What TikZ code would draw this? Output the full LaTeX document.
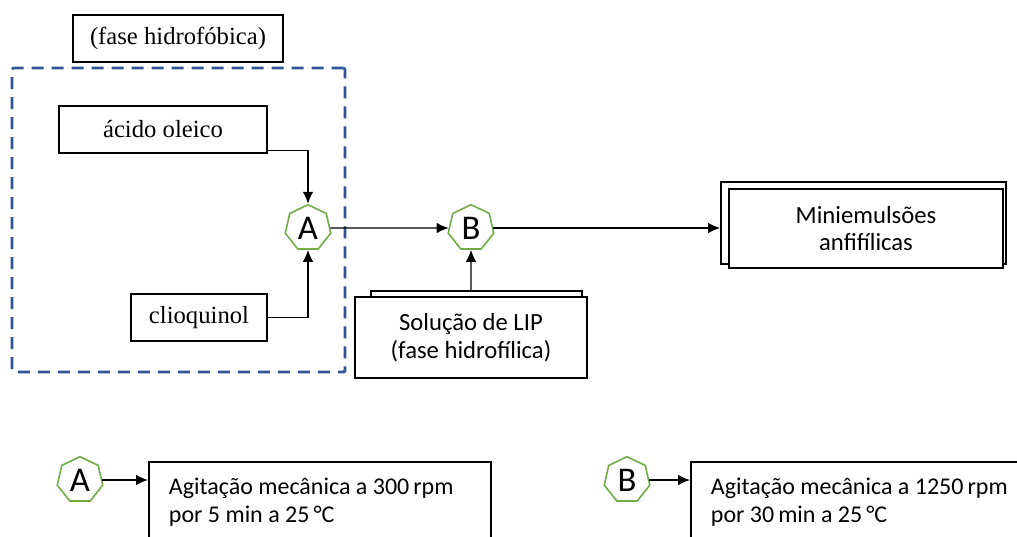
\documentclass[tikz,border=0pt]{standalone}
\usepackage{fontspec}
\setmainfont{Liberation Serif}
\newfontfamily\calibri{Carlito}
\usetikzlibrary{shapes.geometric,arrows.meta}
\definecolor{dashblue}{HTML}{2F5597}
\definecolor{heptgreen}{HTML}{70AD47}
\begin{document}
\begin{tikzpicture}[x=0.75pt,y=-0.75pt,>={Latex[length=9pt,width=8pt]},
  box/.style={draw,rectangle,fill=white,line width=1.4pt,inner sep=0pt},
  serifbox/.style={box,font=\fontsize{18.5}{22}\selectfont},
  sansbox/.style={box,align=center,font=\calibri\fontsize{18.5}{20.5}\selectfont},
  legendbox/.style={box,anchor=north west,align=flush left,inner xsep=15pt,inner ysep=12pt,
    font=\calibri\fontsize{18}{21}\selectfont},
  hept/.style={regular polygon,regular polygon sides=7,draw=heptgreen,line width=1.2pt,
    fill=white,minimum size=35pt,inner sep=0pt,font=\calibri\fontsize{26}{26}\selectfont},
  link/.style={line width=1.1pt}]
\useasboundingbox (0,0) rectangle (1017,536);
% fase hidrofobica
\node[serifbox,minimum width=157.5pt,minimum height=35.25pt] (hfob) at (178,38.5) {(fase hidrof\'obica)};
\node[draw=dashblue,line width=2.2pt,dash pattern=on 9pt off 6pt,rounded corners=1pt,
  minimum width=249.75pt,minimum height=228pt] (fase) at (178.5,220) {};
\node[serifbox,minimum width=156pt,minimum height=35.25pt] (acido) at (163,129.5) {\'acido oleico};
\node[serifbox,minimum width=102pt,minimum height=35.25pt] (clio) at (199,317.5) {clioquinol};
\node[hept] (A) at (308,228) {A};
\node[hept] (B) at (471,228) {B};
% solucao e miniemulsoes
\node[box,minimum width=158.25pt,minimum height=40pt] (solback) at (476.5,318) {};
\node[sansbox,minimum width=174pt,minimum height=60.75pt] (sol) at (471,337.5) {Solu\c{c}\~ao de LIP\\(fase hidrof\'ilica)};
\node[box,minimum width=213.75pt,minimum height=61.5pt] (miniback) at (863.5,223) {};
\node[sansbox,minimum width=205.5pt,minimum height=59.25pt] (mini) at (866,228.5) {Miniemuls\~oes\\anfif\'ilicas};
% conectores
\draw[->,link] ([yshift=2.5pt]acido.south east) -| (A.north);
\draw[->,link] (clio.east) -| (A.south);
\draw[->,link] (A.east) -- (B.west);
\draw[->,link] (B.east) -- (B.east -| miniback.west);
\draw[->,link] (solback.north -| B) -- (B.south);
% legenda
\node[hept] (legA) at (80,480) {A};
\node[legendbox,text width=226.5pt] (legAbox) at (148,461) {Agita\c{c}\~ao mec\^anica a 300\,rpm\\por 5 min a 25\,°C};
\node[hept] (legB) at (627,480) {B};
\node[legendbox,text width=240pt] (legBbox) at (690,461) {Agita\c{c}\~ao mec\^anica a 1250\,rpm\\por 30\,min a 25\,°C};
\draw[->,link] (legA.east) -- (legA.east -| legAbox.west);
\draw[->,link] (legB.east) -- (legB.east -| legBbox.west);
\end{tikzpicture}
\end{document}
